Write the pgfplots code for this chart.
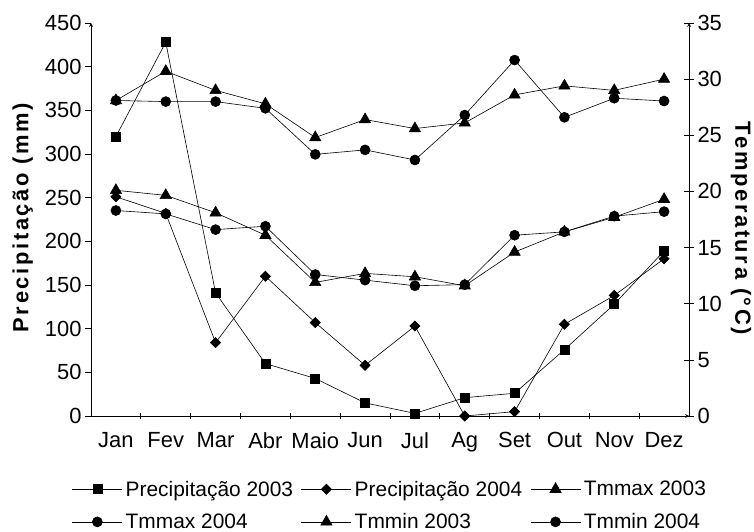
\documentclass[border=0pt]{standalone}
\usepackage{pgfplots}
\pgfplotsset{compat=1.18}
\usepackage{fontspec}
\setmainfont{Liberation Sans}
\newfontfamily\labelfont[LetterSpace=12]{Liberation Sans}

\begin{document}
\begin{tikzpicture}
\path[use as bounding box] (-91bp,-116bp) rectangle (663bp,416bp);
\pgfplotsset{
  base/.style={
    scale only axis, width=598bp, height=393bp,
    xmin=0.5, xmax=12.5,
    axis line style={-, line width=0.7bp},
    tick style={line width=0.7bp, black},
    tick label style={font=\fontsize{22}{26}\selectfont},
    /pgf/number format/assume math mode=true,
  },
  ser/.style={black, line width=0.6bp, mark options={solid, fill=black}},
  sq/.style={ser, mark=square*, mark size=4.5bp},
  dia/.style={ser, mark=square*, mark size=3.6bp, mark options={solid, fill=black, rotate=45}},
  tri/.style={ser, mark=triangle*, mark size=6.5bp},
  circ/.style={ser, mark=*, mark size=5bp},
}
\begin{axis}[base,
  axis x line=bottom, axis y line=left,
  ymin=0, ymax=450, ytick={0,50,...,450},
  ytick align=outside, major tick length=6bp,
  xtick={1.5,2.5,...,11.5}, xticklabels={},
  xtick align=center, 
  extra x ticks={1,...,12},
  extra x tick labels={Jan,Fev,Mar,Abr,Maio,Jun,Jul,Ag,Set,Out,Nov,Dez},
  extra x tick style={major tick length=0pt, xticklabel style={yshift=-13bp}},
  ylabel={Precipitação (mm)},
  ylabel style={at={(axis description cs:-0.114,0.505)}, anchor=center,
    font=\labelfont\bfseries\fontsize{22}{26}\selectfont},
]
\addplot[sq] coordinates {(1,320) (2,428) (3,141) (4,60) (5,43) (6,15) (7,3) (8,21) (9,26) (10,76) (11,128) (12,189)};
\addplot[dia] coordinates {(1,251) (2,232) (3,84) (4,160) (5,107) (6,58) (7,103) (8,0) (9,5) (10,105) (11,138) (12,180)};
\end{axis}
\begin{axis}[base,
  axis x line=none, axis y line=right,
  ymin=0, ymax=35, ytick={0,5,...,35},
  ytick align=center, major tick length=10bp,
  ylabel={Temperatura (°C)},
  ylabel style={at={(axis description cs:1.087,0.477)}, anchor=center, rotate=180,
    font=\labelfont\bfseries\fontsize{22}{26}\selectfont},
  legend columns=3,
  legend cell align=left,
  legend style={at={(-0.032,-0.1634)}, anchor=north west,
    draw=none, fill=none, inner sep=0pt,
    font=\fontsize{21}{25}\selectfont,
    row sep=15bp,
    nodes={inner xsep=3bp, inner ysep=0.5bp},
    /tikz/every even column/.append style={column sep=5bp}},
  legend image code/.code={\draw[#1] (0bp,0bp) -- (50bp,0bp); \draw[#1, only marks] plot coordinates {(25bp,0bp)};},
]
\addlegendimage{sq}
\addlegendentry{Precipitação 2003}
\addlegendimage{dia}
\addlegendentry{Precipitação 2004}
\addplot[tri] coordinates {(1,28.1) (2,30.7) (3,29.0) (4,27.8) (5,24.8) (6,26.4) (7,25.6) (8,26.1) (9,28.6) (10,29.4) (11,29.0) (12,30.0)};
\addlegendentry{Tmmax 2003}
\addplot[circ] coordinates {(1,28.1) (2,28.0) (3,28.0) (4,27.4) (5,23.3) (6,23.7) (7,22.8) (8,26.8) (9,31.7) (10,26.6) (11,28.3) (12,28.05)};
\addlegendentry{Tmmax 2004}
\addplot[tri] coordinates {(1,20.1) (2,19.65) (3,18.1) (4,16.1) (5,11.9) (6,12.7) (7,12.4) (8,11.6) (9,14.6) (10,16.4) (11,17.7) (12,19.3)};
\addlegendentry{Tmmin 2003}
\addplot[circ] coordinates {(1,18.3) (2,18.0) (3,16.6) (4,16.9) (5,12.6) (6,12.1) (7,11.6) (8,11.7) (9,16.1) (10,16.4) (11,17.8) (12,18.2)};
\addlegendentry{Tmmin 2004}
\end{axis}
\end{tikzpicture}
\end{document}
